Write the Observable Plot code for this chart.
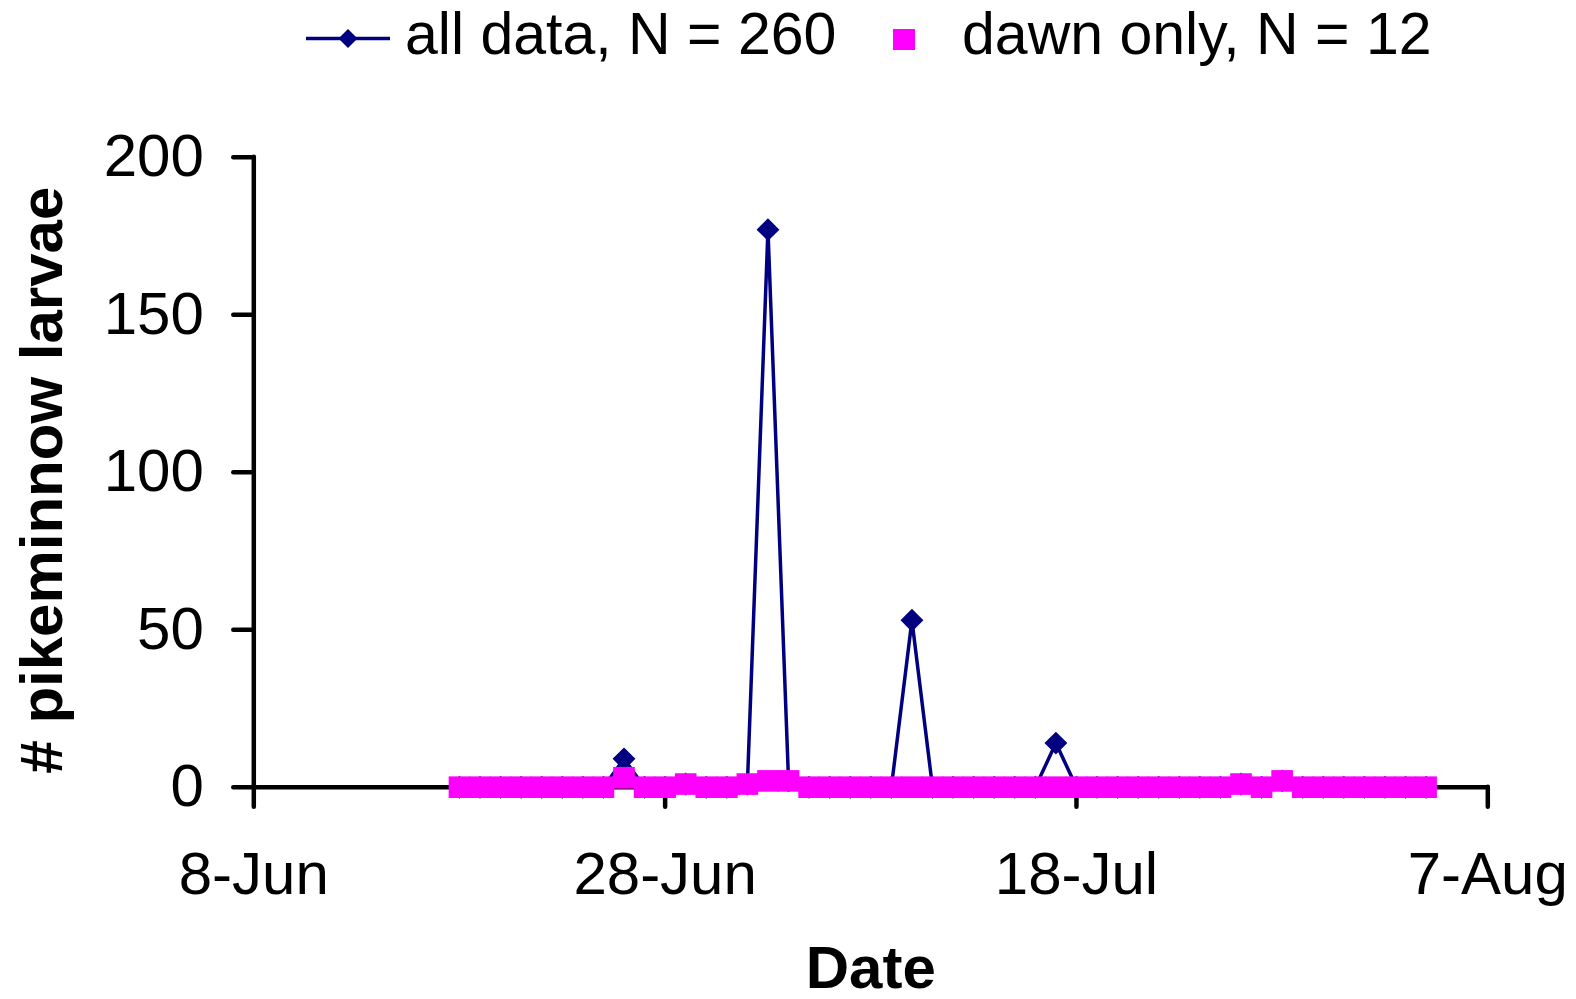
<!DOCTYPE html>
<html>
<head>
<meta charset="utf-8">
<script src="https://cdn.jsdelivr.net/npm/d3@7"></script>
<script src="https://cdn.jsdelivr.net/npm/@observablehq/plot@0.6"></script>
<style>
  html, body { margin: 0; padding: 0; background: #fff; }
  #wrap { position: relative; width: 1576px; height: 999px; overflow: hidden; }
  #legend { position: relative; width: 1576px; height: 78px; font-family: "Liberation Sans", Arial, sans-serif; font-size: 59px; color: #000; }
  #legend .lab { position: absolute; top: 5px; line-height: 1; white-space: nowrap; }
  #legend svg { position: absolute; }
  #chart svg { display: block; }
</style>
</head>
<body>
<div id="wrap">
  <div id="legend">
    <svg style="left:300px; top:18px" width="96" height="42">
      <line x1="6" y1="20.5" x2="90" y2="20.5" stroke="#000080" stroke-width="3.5"></line>
      <path d="M48,11 L57.5,20.5 L48,30 L38.5,20.5 Z" fill="#000080"></path>
    </svg>
    <span class="lab" style="left:405px">all data, N = 260</span>
    <svg style="left:893px; top:29px" width="22" height="21">
      <rect x="0" y="0" width="22" height="21" fill="#ff00ff"></rect>
    </svg>
    <span class="lab" style="left:962px">dawn only, N = 12</span>
  </div>
  <div id="chart"></div>
</div>
<script>
// Daily sampling dates (one entry per sampling night)
const sampleDates = [
  "2003-06-18","2003-06-19","2003-06-20","2003-06-21","2003-06-22","2003-06-23","2003-06-24","2003-06-25",
  "2003-06-26","2003-06-27","2003-06-28","2003-06-29","2003-06-30",
  "2003-07-01","2003-07-02","2003-07-03","2003-07-04","2003-07-05","2003-07-06","2003-07-07","2003-07-08",
  "2003-07-09","2003-07-10","2003-07-11","2003-07-12","2003-07-13","2003-07-14","2003-07-15","2003-07-16",
  "2003-07-17","2003-07-18","2003-07-19","2003-07-20","2003-07-21","2003-07-22","2003-07-23","2003-07-24",
  "2003-07-25","2003-07-26","2003-07-27","2003-07-28","2003-07-29","2003-07-30","2003-07-31",
  "2003-08-01","2003-08-02","2003-08-03","2003-08-04"
];

// Pikeminnow larvae counted, all samples (N = 260)
const allData = [
  0,0,0,0,0,0,0,0,
  9,0,0,1,0,
  0,1,177,2,0,0,0,0,
  0,53,0,0,0,0,0,0,
  14,0,0,0,0,0,0,0,
  0,1,0,2,0,0,0,
  0,0,0,0
];

// Pikeminnow larvae counted, dawn samples only (N = 12)
const dawnOnly = [
  0,0,0,0,0,0,0,0,
  3,0,0,1,0,
  0,1,2,2,0,0,0,0,
  0,0,0,0,0,0,0,0,
  0,0,0,0,0,0,0,0,
  0,1,0,2,0,0,0,
  0,0,0,0
];

const xTickDates = ["2003-06-08","2003-06-28","2003-07-18","2003-08-07"];
const yTicks = [0, 50, 100, 150, 200];

const parse = d3.utcParse("%Y-%m-%d");
const rows = sampleDates.map((d, i) => ({date: parse(d), all: allData[i], dawn: dawnOnly[i]}));
const xTicks = xTickDates.map(parse);

const chart = Plot.plot({
  width: 1576,
  height: 921,
  marginTop: 78.7,
  marginBottom: 212.3,
  marginLeft: 253.3,
  marginRight: 88.7,
  style: {
    fontFamily: "'Liberation Sans', Arial, sans-serif",
    fontSize: "60px",
    color: "#000",
    background: "#fff",
    overflow: "visible"
  },
  x: {type: "utc", domain: [xTicks[0], xTicks[xTicks.length - 1]]},
  y: {domain: [0, 200]},
  marks: [
    Plot.axisY({ticks: yTicks, tickSize: 20, tickPadding: 30, strokeWidth: 4.5, strokeLinecap: "round", fontSize: 60, label: null}),
    Plot.axisX({ticks: xTicks, tickFormat: "%-d-%b", tickSize: 20, tickPadding: 44, strokeWidth: 4.5, strokeLinecap: "round", fontSize: 60, label: null}),
    Plot.ruleX([xTicks[0]], {y1: 0, y2: 200, stroke: "#000", strokeWidth: 4.5, strokeLinecap: "round"}),
    Plot.ruleY([0], {stroke: "#000", strokeWidth: 4.5, strokeLinecap: "round"}),
    Plot.line(rows, {x: "date", y: "all", stroke: "#000080", strokeWidth: 3.5}),
    Plot.dot(rows, {x: "date", y: "all", symbol: "diamond2", r: 10.3, fill: "#000080", stroke: "none"}),
    Plot.dot(rows, {x: "date", y: "dawn", symbol: "square", r: 12.2, fill: "#ff00ff", stroke: "none"}),
    Plot.text(["# pikeminnow larvae"], {frameAnchor: "left", textAnchor: "middle", lineAnchor: "middle", rotate: -90, dx: -211, dy: 8, fontWeight: "bold", fontSize: 60, fill: "#000"}),
    Plot.text(["Date"], {frameAnchor: "bottom", textAnchor: "middle", lineAnchor: "middle", dy: 182, fontWeight: "bold", fontSize: 60, fill: "#000"})
  ]
});

document.getElementById("chart").appendChild(chart);
</script>
</body>
</html>
